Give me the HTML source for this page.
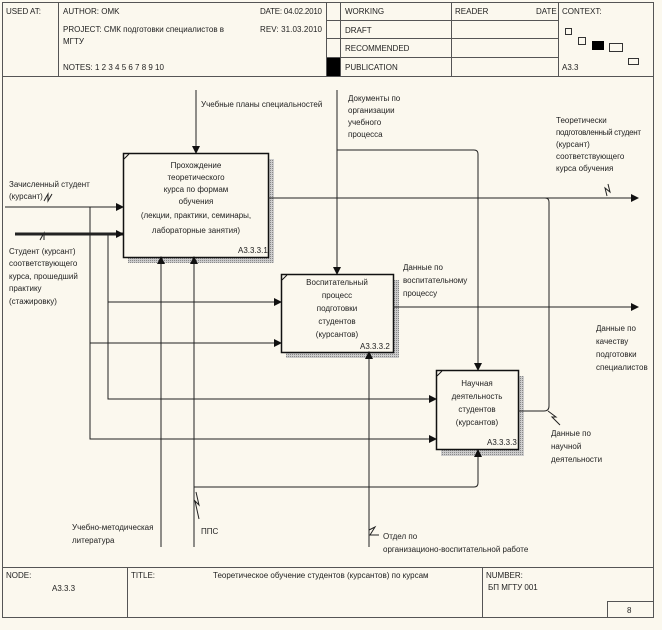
<!DOCTYPE html>
<html><head><meta charset="utf-8"><style>
html,body{margin:0;padding:0;background:#fbf8ee;}
svg{display:block;}
text{font-family:"Liberation Sans",sans-serif;font-size:8px;fill:#222;}
</style></head><body>
<svg width="662" height="630" viewBox="0 0 662 630" xmlns="http://www.w3.org/2000/svg">
<defs>
<marker id="a" markerWidth="8" markerHeight="8" refX="7" refY="4" orient="auto" markerUnits="userSpaceOnUse"><path d="M0,0 L8,4 L0,8 z" fill="#111"/></marker>
<pattern id="h" width="2" height="2" patternUnits="userSpaceOnUse"><rect width="2" height="2" fill="#ccc"/><rect width="1" height="1" fill="#888"/></pattern>
</defs>
<rect x="0" y="0" width="662" height="630" fill="#fbf8ee"/>
<g fill="none" stroke="#555" stroke-width="1">
<rect x="2.5" y="2.5" width="651" height="615"/>
<line x1="2" y1="76.5" x2="654" y2="76.5"/>
<line x1="58.5" y1="2" x2="58.5" y2="76"/>
<line x1="326.5" y1="2" x2="326.5" y2="76"/>
<line x1="340.5" y1="2" x2="340.5" y2="76"/>
<line x1="451.5" y1="2" x2="451.5" y2="76"/>
<line x1="558.5" y1="2" x2="558.5" y2="76"/>
<line x1="326" y1="20.5" x2="558" y2="20.5"/>
<line x1="326" y1="38.5" x2="558" y2="38.5"/>
<line x1="326" y1="57.5" x2="558" y2="57.5"/>
<line x1="2" y1="567.5" x2="654" y2="567.5"/>
<line x1="127.5" y1="567" x2="127.5" y2="617"/>
<line x1="482.5" y1="567" x2="482.5" y2="617"/>
<rect x="607.5" y="601.5" width="46" height="16"/>
</g>
<rect x="327" y="58" width="13" height="18" fill="#000"/>
<g fill="none" stroke="#333">
<rect x="565.5" y="28.5" width="6" height="6"/>
<rect x="578.5" y="37.5" width="7" height="7"/>
<rect x="609.5" y="43.5" width="13" height="8"/>
<rect x="628.5" y="58.5" width="10" height="6"/>
</g>
<rect x="592" y="41" width="12" height="9" fill="#000"/>
<text x="6" y="14">USED AT:</text>
<text x="63" y="14">AUTHOR:  OMK</text>
<text x="260" y="14" textLength="62">DATE:  04.02.2010</text>
<text x="63" y="32">PROJECT:  СМК подготовки специалистов в</text>
<text x="63" y="44">МГТУ</text>
<text x="260" y="32" textLength="62">REV:   31.03.2010</text>
<text x="63" y="70">NOTES:  1  2  3  4  5  6  7  8  9  10</text>
<text x="345" y="14">WORKING</text>
<text x="345" y="33">DRAFT</text>
<text x="345" y="51">RECOMMENDED</text>
<text x="345" y="70">PUBLICATION</text>
<text x="455" y="14">READER</text>
<text x="536" y="14">DATE</text>
<text x="562" y="14">CONTEXT:</text>
<text x="562" y="70">A3.3</text>
<text x="6" y="578">NODE:</text>
<text x="52" y="591">A3.3.3</text>
<text x="131" y="578">TITLE:</text>
<text x="213" y="578">Теоретическое обучение студентов (курсантов) по  курсам</text>
<text x="486" y="578">NUMBER:</text>
<text x="488" y="590">БП МГТУ 001</text>
<text x="627" y="613">8</text>

<rect x="128" y="257" width="145" height="6" fill="url(#h)"/>
<rect x="268" y="159" width="6" height="104" fill="url(#h)"/>
<rect x="286" y="352" width="112" height="6" fill="url(#h)"/>
<rect x="393" y="280" width="6" height="78" fill="url(#h)"/>
<rect x="441" y="450" width="83" height="6" fill="url(#h)"/>
<rect x="518" y="376" width="6" height="80" fill="url(#h)"/>
<g fill="#fbf8ee" stroke="#111" stroke-width="1.5">
<rect x="123.5" y="153.5" width="145" height="104"/>
<rect x="281.5" y="274.5" width="112" height="78"/>
<rect x="436.5" y="370.5" width="82" height="79"/>
</g>
<g stroke="#111" stroke-width="1"><line x1="124" y1="159" x2="129" y2="154"/><line x1="282" y1="280" x2="287" y2="275"/><line x1="437" y1="376" x2="442" y2="371"/></g>
<g text-anchor="middle">
<text x="196" y="168">Прохождение</text><text x="196" y="180">теоретического</text><text x="196" y="192">курса по формам</text><text x="196" y="204">обучения</text><text x="196" y="218">(лекции, практики, семинары,</text><text x="196" y="233">лабораторные занятия)</text>
<text x="337" y="285">Воспитательный</text><text x="337" y="298">процесс</text><text x="337" y="311">подготовки</text><text x="337" y="324">студентов</text><text x="337" y="337">(курсантов)</text>
<text x="477" y="386">Научная</text><text x="477" y="399">деятельность</text><text x="477" y="412">студентов</text><text x="477" y="425">(курсантов)</text>
</g>
<text x="238" y="253">A3.3.3.1</text>
<text x="360" y="349">A3.3.3.2</text>
<text x="487" y="445">A3.3.3.3</text>

<g fill="none" stroke="#222" stroke-width="1">
<line x1="5" y1="207" x2="123" y2="207" marker-end="url(#a)"/>
<line x1="15" y1="234" x2="123" y2="234" stroke-width="3" marker-end="url(#a)"/>
<path d="M90,207 V439 H436" marker-end="url(#a)"/>
<path d="M90,343 H281" marker-end="url(#a)"/>
<path d="M108,234 V399 H436" marker-end="url(#a)"/>
<path d="M108,302 H281" marker-end="url(#a)"/>
<line x1="196" y1="90" x2="196" y2="153" marker-end="url(#a)"/>
<line x1="337" y1="90" x2="337" y2="274" marker-end="url(#a)"/>
<path d="M337,150 H474 Q478,150 478,154 V370" marker-end="url(#a)"/>
<line x1="161" y1="547" x2="161" y2="257" marker-end="url(#a)"/>
<line x1="194" y1="547" x2="194" y2="257" marker-end="url(#a)"/>
<path d="M194,487 H474 Q478,487 478,483 V450" marker-end="url(#a)"/>
<line x1="369" y1="547" x2="369" y2="352" marker-end="url(#a)"/>
<line x1="268" y1="198" x2="638" y2="198" marker-end="url(#a)"/>
<line x1="393" y1="307" x2="638" y2="307" marker-end="url(#a)"/>
<path d="M518,411 H544 Q549,411 549,406 V202 Q549,198 545,198"/>
<path d="M44,201 l4,-7 l0,7 l4,-7"/>
<path d="M40,240 l4,-7 l0,7"/>
<path d="M607,196 l-2,-8 l5,4 l-2,-8"/>
<path d="M548,411 l8,6 l-4,0 l8,8"/>
<path d="M196,492 l3,13 l-4,-4 l4,18"/>
<path d="M369,530 l6,-3 l-5,8 l9,0"/>
</g>
<text x="201" y="107">Учебные планы специальностей</text>
<text x="348" y="101">Документы по</text><text x="348" y="113">организации</text><text x="348" y="125">учебного</text><text x="348" y="137">процесса</text>
<text x="556" y="123">Теоретически</text><text x="556" y="135" textLength="85">подготовленный студент</text><text x="556" y="147">(курсант)</text><text x="556" y="159">соответствующего</text><text x="556" y="171">курса обучения</text>
<text x="9" y="187">Зачисленный студент</text><text x="9" y="199">(курсант)</text>
<text x="9" y="254">Студент (курсант)</text><text x="9" y="266">соответствующего</text><text x="9" y="279">курса, прошедший</text><text x="9" y="291">практику</text><text x="9" y="304">(стажировку)</text>
<text x="403" y="270">Данные по</text><text x="403" y="283">воспитательному</text><text x="403" y="296">процессу</text>
<text x="596" y="331">Данные по</text><text x="596" y="344">качеству</text><text x="596" y="357">подготовки</text><text x="596" y="370">специалистов</text>
<text x="551" y="436">Данные по</text><text x="551" y="449">научной</text><text x="551" y="462">деятельности</text>
<text x="72" y="530">Учебно-методическая</text><text x="72" y="543">литература</text>
<text x="201" y="534">ППС</text>
<text x="383" y="539">Отдел по</text><text x="383" y="552">организационо-воспитательной работе</text>
</svg>
</body></html>
